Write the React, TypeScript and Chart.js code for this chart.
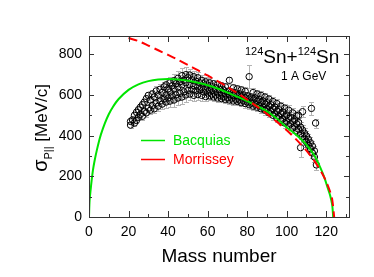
import { useEffect, useRef } from "react";
import { Chart, registerables } from "chart.js";

Chart.register(...registerables);

// ---------- data ----------
const massNumbers = [
  21, 22, 23, 24, 25, 26, 27, 28, 29, 30,
  31, 32, 33, 34, 35, 36, 37, 38, 39, 40,
  41, 42, 43, 44, 45, 46, 47, 48, 49, 50,
  51, 52, 53, 54, 55, 56, 57, 58, 59, 60,
  61, 62, 63, 64, 65, 66, 67, 68, 69, 70,
  71, 72, 73, 74, 75, 76, 77, 78, 79, 80,
  81, 82, 83, 84, 85, 86, 87, 88, 89, 90,
  91, 92, 93, 94, 95, 96, 97, 98, 99, 100,
  101, 102, 103, 104, 105, 106, 107, 108, 109, 110,
  111, 112, 113, 114, 115,
];

const sigmaByMass = [
  [452, 470], [478], [462, 500], [475, 515], [490, 528],
  [505, 540], [495, 552], [520, 565], [512, 582], [535, 598],
  [525, 575], [548, 605], [532, 590], [560, 620], [545, 600],
  [570, 628], [555, 612], [580, 640], [565, 600, 650], [585, 630],
  [570, 615, 660], [595, 645], [575, 630, 670], [600, 655], [585, 640, 682],
  [608, 665], [590, 650, 695], [615, 672], [600, 660, 700], [622, 685],
  [605, 650, 698], [628, 675], [598, 645, 690], [620, 668], [602, 640, 685],
  [625, 660], [598, 635, 672], [615, 655], [592, 630, 665], [610, 648],
  [595, 625, 660], [605, 642], [590, 622, 655], [600, 635], [585, 615, 650],
  [598, 628], [582, 610, 645], [592, 625], [578, 605, 640], [588, 618],
  [575, 602, 672], [585, 615], [570, 598, 635], [580, 610], [568, 595, 630],
  [576, 605], [562, 590, 625], [572, 600], [558, 585, 618], [566, 596],
  [552, 580], [560, 590], [545, 575, 612], [555, 585], [540, 568, 605],
  [548, 578], [532, 562, 598], [540, 570], [525, 555, 590], [532, 562],
  [512, 545, 580], [520, 552], [500, 532, 568], [508, 540], [488, 520, 558],
  [495, 528], [475, 508, 545], [482, 515], [462, 495, 535], [470, 502],
  [450, 485, 525], [458, 490], [438, 470, 512], [445, 478], [425, 458, 498],
  [432, 465, 500], [410, 442], [395, 428, 518], [382, 412], [368, 398],
  [352, 382], [335, 365], [315, 348], [295, 325], [256],
];

const errorByMass = [
  12, 12, 14, 14, 15, 15, 16, 16, 18, 18,
  18, 20, 20, 22, 22, 24, 26, 26, 28, 28,
  30, 30, 32, 32, 34, 34, 36, 36, 36, 34,
  32, 32, 30, 30, 28, 28, 26, 26, 24, 24,
  22, 22, 20, 20, 20, 18, 18, 18, 18, 18,
  18, 18, 18, 18, 18, 18, 18, 18, 20, 20,
  20, 20, 20, 20, 20, 20, 20, 22, 22, 22,
  22, 22, 22, 22, 22, 22, 22, 22, 22, 22,
  24, 24, 24, 24, 24, 24, 26, 26, 26, 26,
  26, 26, 26, 26, 26,
];

const outlierMass = [81, 107, 112.5, 114.6];
const outlierSigma = [690, 341, 534, 462];
const outlierError = [55, 45, 30, 22];

const bacquiasMass = [0, 0.3, 1, 2, 3, 4, 5, 6, 8, 10, 12, 15, 20, 25, 30, 35, 40, 45, 50, 55, 60, 65, 70, 75, 80, 85, 90, 95, 100, 105, 110, 114, 117, 119, 121, 122, 123, 123.5];
const bacquiasSigma = [0, 80, 150, 230, 285, 330, 370, 405, 460, 505, 540, 580, 625, 652, 668, 676, 678, 676, 670, 660, 648, 632, 612, 592, 570, 546, 520, 484, 441, 402, 355, 302, 243, 195, 135, 105, 60, 0];

const morrisseyMass = [20, 25, 30, 35, 40, 45, 50, 55, 60, 65, 70, 75, 80, 85, 90, 95, 100, 105, 110, 115, 118, 120, 122, 123, 124];
const morrisseySigma = [880, 865, 843, 820, 797, 773, 748, 722, 696, 668, 640, 609, 577, 543, 507, 468, 426, 379, 326, 261, 213, 174, 123, 87, 0];

const xMax = 131.5;
const yMax = 890;
const legendLabels = ["Bacquias", "Morrissey"];

const FONT = "'Liberation Sans', Arial, sans-serif";
const GREEN = "#00e400";
const RED = "#ff0000";

type Pt = { x: number; y: number; e: number };

function buildPoints(): Pt[] {
  const pts: Pt[] = [];
  massNumbers.forEach((a, i) => {
    sigmaByMass[i].forEach((s) => pts.push({ x: a, y: s, e: errorByMass[i] }));
  });
  outlierMass.forEach((a, i) => pts.push({ x: a, y: outlierSigma[i], e: outlierError[i] }));
  return pts;
}

const errorBarPlugin = {
  id: "errorBars",
  beforeDatasetsDraw(chart: any) {
    const { ctx, chartArea, scales } = chart;
    const pts: Pt[] = chart.data.datasets[0].data;
    ctx.save();
    ctx.beginPath();
    ctx.rect(chartArea.left, chartArea.top, chartArea.right - chartArea.left, chartArea.bottom - chartArea.top);
    ctx.clip();
    ctx.strokeStyle = "#b4b4b4";
    ctx.lineWidth = 1;
    ctx.beginPath();
    pts.forEach((p) => {
      const x = Math.round(scales.x.getPixelForValue(p.x)) + 0.5;
      const y1 = Math.round(scales.y.getPixelForValue(p.y - p.e)) + 0.5;
      const y2 = Math.round(scales.y.getPixelForValue(p.y + p.e)) + 0.5;
      ctx.moveTo(x, y1);
      ctx.lineTo(x, y2);
      ctx.moveTo(x - 2.5, y1);
      ctx.lineTo(x + 2.5, y1);
      ctx.moveTo(x - 2.5, y2);
      ctx.lineTo(x + 2.5, y2);
    });
    ctx.stroke();
    ctx.restore();
  },
};

const framePlugin = {
  id: "frame",
  afterDraw(chart: any) {
    const { ctx, chartArea, scales } = chart;
    const { left, right, top, bottom } = chartArea;
    ctx.save();
    ctx.strokeStyle = "#333";
    ctx.lineWidth = 1;
    ctx.strokeRect(Math.round(left) + 0.5, Math.round(top) + 0.5, Math.round(right - left), Math.round(bottom - top));
    ctx.beginPath();
    for (let v = 0; v <= xMax; v += 10) {
      const x = Math.round(scales.x.getPixelForValue(v)) + 0.5;
      const len = v % 20 === 0 ? 6 : 3;
      ctx.moveTo(x, bottom);
      ctx.lineTo(x, bottom - len);
      ctx.moveTo(x, top);
      ctx.lineTo(x, top + len);
    }
    for (let v = 0; v <= yMax; v += 100) {
      const y = Math.round(scales.y.getPixelForValue(v)) + 0.5;
      const len = v % 200 === 0 ? 5 : 3;
      ctx.moveTo(left, y);
      ctx.lineTo(left + len, y);
      ctx.moveTo(right, y);
      ctx.lineTo(right - len, y);
    }
    ctx.stroke();

    // axis titles
    ctx.fillStyle = "#000";
    ctx.textBaseline = "alphabetic";
    ctx.font = `19px ${FONT}`;
    ctx.textAlign = "center";
    ctx.fillText("Mass number", (left + right) / 2, 262);

    // y title (rotated)
    ctx.save();
    ctx.translate(47, 128);
    ctx.rotate(-Math.PI / 2);
    ctx.textAlign = "left";
    const big = `20px ${FONT}`;
    const sub = `11px ${FONT}`;
    const unit = `17px ${FONT}`;
    ctx.font = big;
    const wSig = ctx.measureText("σ").width;
    ctx.font = sub;
    const wSub = ctx.measureText("P||").width;
    ctx.font = unit;
    const wUnit = ctx.measureText(" [MeV/c]").width;
    const total = wSig + wSub + wUnit;
    let cx = -total / 2;
    ctx.font = big;
    ctx.fillText("σ", cx, 0);
    cx += wSig;
    ctx.font = sub;
    ctx.fillText("P||", cx, 5);
    cx += wSub;
    ctx.font = unit;
    ctx.fillText(" [MeV/c]", cx, 0);
    ctx.restore();

    // reaction label
    ctx.textAlign = "left";
    let tx = 245;
    const parts: [string, string, number][] = [
      ["124", `11px ${FONT}`, 55],
      ["Sn+", `19px ${FONT}`, 63],
      ["124", `11px ${FONT}`, 55],
      ["Sn", `19px ${FONT}`, 63],
    ];
    parts.forEach(([t, f, y]) => {
      ctx.font = f;
      ctx.fillText(t, tx, y);
      tx += ctx.measureText(t).width;
    });
    ctx.font = `12px ${FONT}`;
    ctx.fillText("1 A GeV", 281, 80);

    // legend
    ctx.lineWidth = 1.5;
    ctx.strokeStyle = GREEN;
    ctx.beginPath();
    ctx.moveTo(141, 140.5);
    ctx.lineTo(165, 140.5);
    ctx.stroke();
    ctx.strokeStyle = RED;
    ctx.beginPath();
    ctx.moveTo(141, 159.5);
    ctx.lineTo(165, 159.5);
    ctx.stroke();
    ctx.font = `14px ${FONT}`;
    ctx.textBaseline = "middle";
    ctx.fillStyle = GREEN;
    ctx.fillText(legendLabels[0], 173, 141);
    ctx.fillStyle = RED;
    ctx.fillText(legendLabels[1], 173, 160);
    ctx.restore();
  },
};

export default function App() {
  const ref = useRef<HTMLCanvasElement | null>(null);
  useEffect(() => {
    if (!ref.current) return;
    const chart = new Chart(ref.current, {
      type: "scatter",
      data: {
        datasets: [
          {
            label: "data",
            data: buildPoints() as any,
            pointRadius: 3.2,
            pointBorderWidth: 1,
            pointBorderColor: "#000",
            pointBackgroundColor: "rgba(0,0,0,0)",
            order: 3,
          },
          {
            label: legendLabels[0],
            data: bacquiasMass.map((x, i) => ({ x, y: bacquiasSigma[i] })),
            showLine: true,
            pointRadius: 0,
            borderColor: GREEN,
            borderWidth: 2,
            tension: 0.3,
            order: 2,
          },
          {
            label: legendLabels[1],
            data: morrisseyMass.map((x, i) => ({ x, y: morrisseySigma[i] })),
            showLine: true,
            pointRadius: 0,
            borderColor: RED,
            borderWidth: 2,
            borderDash: [9, 5],
            tension: 0.3,
            order: 1,
          },
        ],
      },
      options: {
        responsive: false,
        animation: false,
        devicePixelRatio: 1,
        layout: { padding: { top: 36, right: 25, left: 0, bottom: 0 } },
        plugins: { legend: { display: false }, tooltip: { enabled: false } },
        scales: {
          x: {
            type: "linear",
            min: 0,
            max: xMax,
            grid: { display: false, drawTicks: false },
            border: { display: false },
            ticks: { stepSize: 20, includeBounds: false, padding: 7, color: "#000", font: { size: 14, family: FONT } },
            afterFit: (s: any) => { s.height = 60; },
          },
          y: {
            type: "linear",
            min: 0,
            max: yMax,
            grid: { display: false, drawTicks: false },
            border: { display: false },
            ticks: { stepSize: 200, includeBounds: false, padding: 7, color: "#000", font: { size: 14, family: FONT } },
            afterFit: (s: any) => { s.width = 89; },
          },
        },
      },
      plugins: [errorBarPlugin, framePlugin],
    });
    return () => chart.destroy();
  }, []);
  return (
    <div style={{ position: "fixed", left: 0, top: 0, width: 374, height: 277, background: "#fff" }}>
      <canvas ref={ref} width={374} height={277} />
    </div>
  );
}
